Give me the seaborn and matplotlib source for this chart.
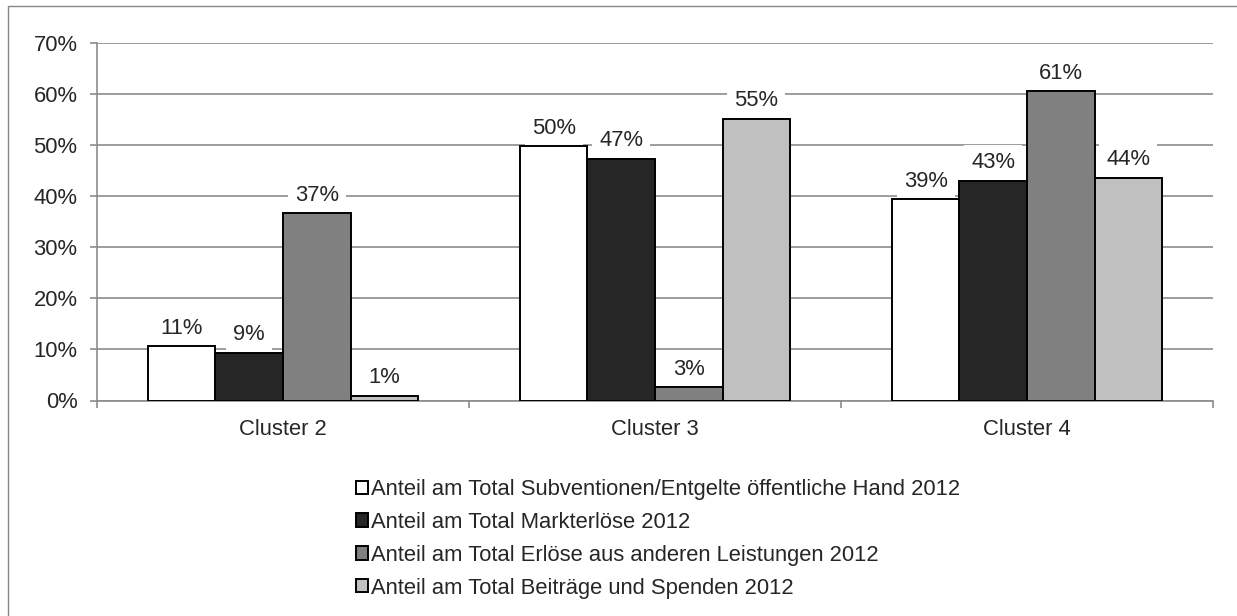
import numpy as np
import pandas as pd
import matplotlib
matplotlib.use("Agg")
import matplotlib.pyplot as plt
import seaborn as sns
from matplotlib.patches import Rectangle
from matplotlib.ticker import FuncFormatter, FixedLocator

# ---------------------------------------------------------
# data (percent)
# ---------------------------------------------------------
clusters = ["Cluster 2", "Cluster 3", "Cluster 4"]
series = [
    "Anteil am Total Subventionen/Entgelte öffentliche Hand 2012",
    "Anteil am Total Markterlöse 2012",
    "Anteil am Total Erlöse aus anderen Leistungen 2012",
    "Anteil am Total Beiträge und Spenden 2012",
]
subventionen = [10.6, 49.8, 39.4]
markterloese = [9.4, 47.3, 43.1]
andere_leistungen = [36.7, 2.6, 60.6]
beitraege = [0.9, 55.2, 43.6]
colors = ["#ffffff", "#262626", "#808080", "#c0c0c0"]

rows = []
for name, vals in zip(series, [subventionen, markterloese, andere_leistungen, beitraege]):
    for c, v in zip(clusters, vals):
        rows.append({"cluster": c, "series": name, "value": v})
df = pd.DataFrame(rows)

# ---------------------------------------------------------
# plot
# ---------------------------------------------------------
sns.set_style("white")
plt.rcParams["font.family"] = ["Liberation Sans", "DejaVu Sans"]
FS = 15.8
GRID = "#8c8c8c"

fig = plt.figure(figsize=(12.37, 6.16), dpi=100)
ax = fig.add_axes([97 / 1237, 1 - 400.5 / 616, (1213 - 97) / 1237, (400.5 - 43.3) / 616])

sns.barplot(
    data=df, x="cluster", y="value", hue="series",
    order=clusters, hue_order=series, palette=colors,
    edgecolor="black", linewidth=1.4, width=0.727, saturation=1,
    ax=ax,
)

ax.set_ylim(0, 70)
ax.set_xlim(-0.5, 2.5)
ax.set_yticks(np.arange(0, 71, 10))
ax.yaxis.set_major_formatter(FuncFormatter(lambda v, p: f"{v:.0f}%"))
ax.yaxis.grid(True, color=GRID, linewidth=1.2)
ax.set_axisbelow(True)
ax.set_xlabel("")
ax.set_ylabel("")

for s in ["top", "right"]:
    ax.spines[s].set_visible(False)
for s in ["left", "bottom"]:
    ax.spines[s].set_color(GRID)
    ax.spines[s].set_linewidth(1.2)

ax.tick_params(axis="y", which="major", left=True, length=5, width=1.2,
               color=GRID, labelsize=FS, pad=9)
ax.tick_params(axis="x", which="major", length=0, labelsize=FS, pad=13)
ax.xaxis.set_minor_locator(FixedLocator([-0.5, 0.5, 1.5, 2.5]))
ax.tick_params(axis="x", which="minor", bottom=True, length=5, width=1.2, color=GRID)

# bars above the label boxes, label boxes above the grid
for p in ax.patches:
    p.set_zorder(4)

# data labels
for cont in ax.containers:
    txts = ax.bar_label(
        cont, fmt="{:.0f}%", padding=5.5, fontsize=FS,
        bbox=dict(facecolor="white", edgecolor="none", pad=5),
    )
    for t in txts:
        t.set_zorder(3)

# legend below
handles, labels = ax.get_legend_handles_labels()
ax.get_legend().remove()
fig.legend(
    handles, labels, loc="upper left", bbox_to_anchor=(356 / 1237, 1 - 479 / 616),
    frameon=False, fontsize=FS, handlelength=0.55, handleheight=0.55,
    handletextpad=0.15, labelspacing=0.54, borderpad=0, borderaxespad=0,
)

# chart area border
fig.patches.append(Rectangle((8 / 1237, -0.05), 1.1, 1.05 - 6 / 616,
                             transform=fig.transFigure, fill=False,
                             edgecolor="#868686", linewidth=1.0))

fig.savefig("out.png", dpi=100)
